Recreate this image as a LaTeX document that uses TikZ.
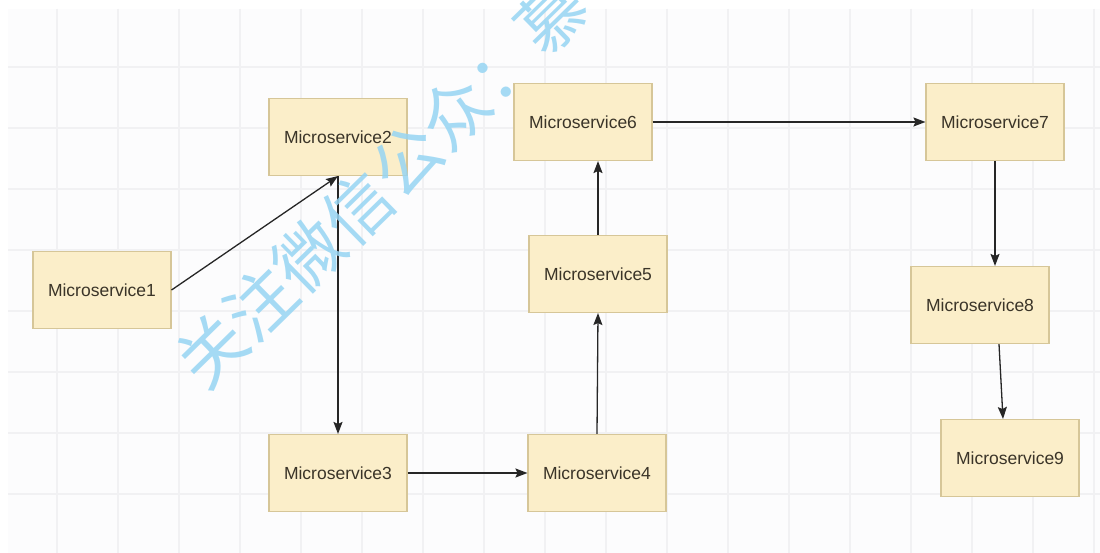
\documentclass[tikz,border=0pt]{standalone}
\usepackage{fontspec}
\setmainfont{Liberation Sans}
\newfontfamily\cjk{Noto Sans CJK SC}
\usetikzlibrary{arrows.meta}
\definecolor{boxfill}{RGB}{251,238,201}
\definecolor{boxline}{RGB}{214,198,152}
\definecolor{boxtext}{RGB}{58,52,40}
\definecolor{gridline}{RGB}{241,241,243}
\definecolor{canvas}{RGB}{252,252,253}
\definecolor{mark}{RGB}{150,213,243}

\begin{document}
\begin{tikzpicture}[x=1pt,y=-1pt,
  msbox/.style={draw=boxline,fill=boxfill,line width=1.1pt,minimum width=138pt,minimum height=77pt,
    text=boxtext,font=\fontsize{17.5}{20}\selectfont},
  link/.style={draw=black!85,line width=1.3pt,-{Stealth[length=12pt,width=9pt,inset=2pt]}}]
\useasboundingbox (0,0) rectangle (1100,553);
\fill[white] (0,0) rectangle (1100,553);
\fill[canvas] (8,9) rectangle (1100,553);
\foreach \gx in {57,118,...,1094} \draw[gridline,line width=1.2pt] (\gx,9) -- (\gx,553);
\foreach \gy in {67,128,...,494} \draw[gridline,line width=1.2pt] (8,\gy) -- (1100,\gy);

\node[msbox] (m1) at (102,290) {Microservice1};
\node[msbox] (m2) at (338,137) {Microservice2};
\node[msbox] (m3) at (338,473) {Microservice3};
\node[msbox] (m4) at (597,473) {Microservice4};
\node[msbox] (m5) at (598,274) {Microservice5};
\node[msbox] (m6) at (583,122) {Microservice6};
\node[msbox] (m7) at (995,122) {Microservice7};
\node[msbox] (m8) at (980,305) {Microservice8};
\node[msbox] (m9) at (1010,458) {Microservice9};

\draw[link] (m1.east) -- (m2.south);
\draw[link] (m2.south) -- (m3.north);
\draw[link] (m3.east) -- (m4.west);
\draw[link] (m4.north) -- (m5.south);
\draw[link] (m5.north) -- (m5.north |- m6.south);
\draw[link] (m6.east) -- (m7.west);
\draw[link] (m7.south) -- (m7.south |- m8.north);
\draw[link] ([xshift=19pt]m8.south) -- ([xshift=-7pt]m9.north);

\node[text=mark,opacity=0.85,rotate=44.4,font=\cjk\fontsize{68}{72}\selectfont] (wm) at (382,184) {关注微信公众：慕};
\end{tikzpicture}
\end{document}
